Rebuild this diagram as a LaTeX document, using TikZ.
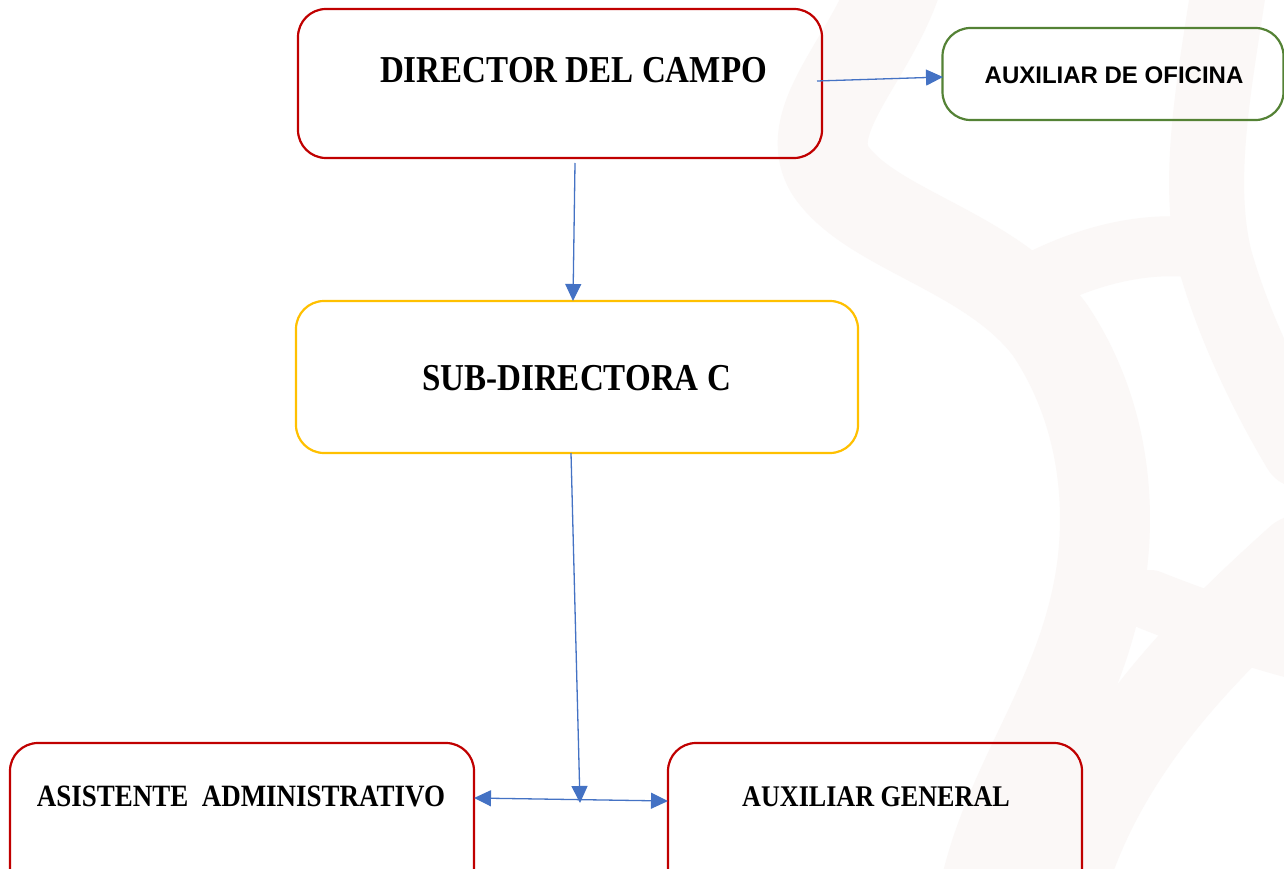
\documentclass[tikz,border=0pt]{standalone}
\usepackage{fontspec}
\setmainfont{Liberation Serif}
\newfontfamily\serifb[FakeStretch=0.87]{Liberation Serif Bold}
\newfontfamily\sansb{Liberation Sans Bold}
\usetikzlibrary{arrows.meta}
\definecolor{boxred}{HTML}{C00000}
\definecolor{boxgreen}{HTML}{548235}
\definecolor{boxyellow}{HTML}{FFC000}
\definecolor{arrowblue}{HTML}{4472C4}
\definecolor{wmark}{RGB}{251,248,247}
\tikzset{
  orgbox/.style={draw, rounded corners=28pt, line width=2.2pt, fill=none, inner sep=0pt},
  serift/.style={font=\serifb, inner sep=0pt, text=black},
  tip/.tip={Triangle[length=17pt,width=16pt]},
  conn/.style={draw=arrowblue, line width=1.3pt, -tip},
  wm/.style={draw=wmark, line cap=round, line join=round},
}
\begin{document}
\begin{tikzpicture}[x=1pt, y=-1pt]
\useasboundingbox (0,0) rectangle (1284,869);
\fill[white] (0,0) rectangle (1284,869);
% faint watermark
\begin{scope}
\clip (0,0) rectangle (1284,869);
\draw[wm, line width=90pt] (897,-20) .. controls (870,60) and (800,120) .. (830,170) .. controls (870,230) and (990,250) .. (1050,330) .. controls (1110,420) and (1110,520) .. (1100,580) .. controls (1080,700) and (1010,780) .. (985,890);
\draw[wm, line width=75pt] (1230,-20) .. controls (1215,80) and (1195,180) .. (1215,260) .. controls (1235,330) and (1270,400) .. (1300,450);
\draw[wm, line width=60pt] (1040,280) .. controls (1100,250) and (1160,240) .. (1210,250);
\draw[wm, line width=90pt] (1300,560) .. controls (1200,650) and (1100,750) .. (1060,890);
\draw[wm, line width=60pt] (1150,600) .. controls (1200,620) and (1260,640) .. (1300,650);
\end{scope}
% boxes
\node[orgbox, draw=boxred, minimum width=524pt, minimum height=149pt] (dir) at (560,83.5) {};
\node[orgbox, draw=boxgreen, minimum width=341pt, minimum height=92pt] (auxof) at (1113,74) {};
\node[orgbox, draw=boxyellow, minimum width=562pt, minimum height=152pt] (sub) at (577,377) {};
\node[orgbox, draw=boxred, minimum width=464pt, minimum height=160pt] (asis) at (242,823) {};
\node[orgbox, draw=boxred, minimum width=414pt, minimum height=160pt] (auxgen) at (875,823) {};
% texts
\node[serift, font=\serifb\fontsize{38}{40}\selectfont] (dirtxt) at (573.5,70.5) {DIRECTOR DEL CAMPO};
\node[inner sep=0pt, font=\sansb\fontsize{24}{26}\selectfont] (auxoftxt) at (1114,75) {AUXILIAR DE OFICINA};
\node[serift, font=\serifb\fontsize{38}{40}\selectfont] (subtxt) at (576.5,378) {SUB-DIRECTORA C};
\node[serift, font=\serifb\fontsize{31}{33}\selectfont] (asistxt) at (241,796) {ASISTENTE~ ADMINISTRATIVO};
\node[serift, font=\serifb\fontsize{30}{32}\selectfont] (auxgentxt) at (876,797) {AUXILIAR GENERAL};
% connector end points
\coordinate (c1s) at (817,81);
\coordinate (c1e) at (943,77);
\coordinate (c2s) at (575,163);
\coordinate (c2e) at (573,301);
\coordinate (c3s) at (571,453);
\coordinate (c3e) at (580,803);
\coordinate (c4a) at (474,798);
\coordinate (c4b) at (668,801);
% connectors
\draw[conn] (c1s) -- (c1e);
\draw[conn] (c2s) -- (c2e);
\draw[conn] (c3s) -- (c3e);
\draw[conn, tip-tip] (c4a) -- (c4b);
\end{tikzpicture}
\end{document}
